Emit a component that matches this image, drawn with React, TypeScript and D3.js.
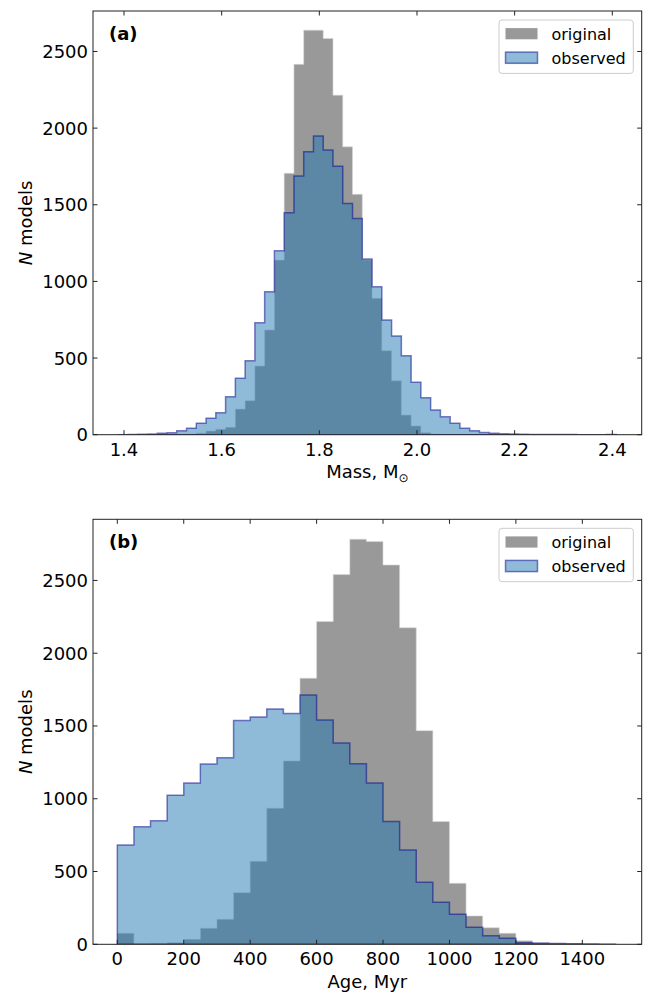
import React from "react";
import * as d3 from "d3";

// ---------- data ----------
const massBinStart = 1.388;
const massBinWidth = 0.02;
const massOriginal = [
  0, 0, 0, 0, 0, 0, 1, 3, 10, 24,
  35, 48, 167, 222, 448, 683, 1139, 1705, 2416, 2639,
  2639, 2585, 2215, 1878, 1568, 1140, 890, 548, 352, 128,
  57, 13, 3, 1, 0, 0, 0, 0, 0, 0,
  0, 0, 0, 0, 0, 0, 0, 0, 0, 0, 0,
];
const massObserved = [
  0, 1, 3, 5, 9, 13, 26, 42, 74, 107,
  143, 248, 368, 483, 730, 933, 1200, 1448, 1687, 1846,
  1948, 1857, 1752, 1509, 1411, 1146, 965, 748, 644, 515,
  342, 241, 161, 117, 74, 42, 26, 15, 9, 6,
  4, 3, 2, 2, 1, 1, 1, 0, 0, 0, 1,
];

const ageBinStart = 0;
const ageBinWidth = 50;
const ageOriginal = [
  76, 0, 3, 11, 34, 110, 172, 355, 570, 935,
  1260, 1828, 2217, 2540, 2783, 2767, 2606, 2175, 1468, 843,
  419, 195, 114, 76, 25, 11, 7, 5, 3, 2,
];
const ageObserved = [
  682, 808, 849, 1024, 1108, 1239, 1282, 1537, 1562, 1617,
  1585, 1713, 1541, 1383, 1241, 1108, 843, 648, 426, 289,
  206, 117, 59, 41, 11, 7, 5, 3, 2, 1,
];

const massTicks = [1.4, 1.6, 1.8, 2.0, 2.2, 2.4];
const ageTicks = [0, 200, 400, 600, 800, 1000, 1200, 1400];
const countTicks = [0, 500, 1000, 1500, 2000, 2500];
const legendLabels = ["original", "observed"];

// ---------- style ----------
const FONT = "DejaVu Sans, sans-serif";
const GRAY = "#999999";
const BLUE = "#1f77b4";
const EDGE = "#00008b";
const AX_L = 93;
const AX_R = 641.7;
const TICK = 4.5;

type PanelProps = {
  id: string;
  top: number;
  bottom: number;
  xDomain: [number, number];
  yMax: number;
  xTicks: number[];
  fmt: (d: number) => string;
  binStart: number;
  binWidth: number;
  original: number[];
  observed: number[];
  xlabel: React.ReactNode;
  panelLabel: string;
};

function stepPath(
  start: number,
  width: number,
  values: number[],
  x: d3.ScaleLinear<number, number>,
  y: d3.ScaleLinear<number, number>
) {
  const pts: [number, number][] = [[start, 0]];
  values.forEach((v, i) => {
    const x0 = start + i * width;
    pts.push([x0, v], [x0 + width, v]);
  });
  pts.push([start + values.length * width, 0]);
  const line = d3
    .line<[number, number]>()
    .x((d) => x(d[0]))
    .y((d) => y(d[1]));
  return (line(pts) || "") + "Z";
}

function Panel(p: PanelProps) {
  const x = d3.scaleLinear().domain(p.xDomain).range([AX_L, AX_R]);
  const y = d3.scaleLinear().domain([0, p.yMax]).range([p.bottom, p.top]);
  const origPath = stepPath(p.binStart, p.binWidth, p.original, x, y);
  const obsPath = stepPath(p.binStart, p.binWidth, p.observed, x, y);
  const legTop = p.top + 9;
  const legLeft = 499;
  const legRight = 633.3;
  return (
    <g>
      <defs>
        <clipPath id={"clip-" + p.id}>
          <rect x={AX_L} y={p.top} width={AX_R - AX_L} height={p.bottom - p.top} />
        </clipPath>
      </defs>
      <g clipPath={`url(#clip-${p.id})`}>
        <path d={origPath} fill={GRAY} stroke="#d6d6d6" strokeWidth={0.6} />
        <path
          d={obsPath}
          fill={BLUE}
          fillOpacity={0.5}
          stroke={EDGE}
          strokeOpacity={0.5}
          strokeWidth={1.5}
          strokeLinejoin="miter"
        />
      </g>
      {/* frame */}
      <rect
        x={AX_L}
        y={p.top}
        width={AX_R - AX_L}
        height={p.bottom - p.top}
        fill="none"
        stroke="#222"
        strokeWidth={1}
      />
      {/* x ticks */}
      {p.xTicks.map((t) => (
        <g key={"x" + t}>
          <line x1={x(t)} x2={x(t)} y1={p.bottom} y2={p.bottom - TICK} stroke="#222" strokeWidth={1} />
          <line x1={x(t)} x2={x(t)} y1={p.top} y2={p.top + TICK} stroke="#222" strokeWidth={1} />
          <text
            x={x(t)}
            y={p.bottom + 21}
            textAnchor="middle"
            fontFamily={FONT}
            fontSize={18}
            fill="#000"
          >
            {p.fmt(t)}
          </text>
        </g>
      ))}
      {/* y ticks */}
      {countTicks.map((t) => (
        <g key={"y" + t}>
          <line x1={AX_L} x2={AX_L + TICK} y1={y(t)} y2={y(t)} stroke="#222" strokeWidth={1} />
          <line x1={AX_R} x2={AX_R - TICK} y1={y(t)} y2={y(t)} stroke="#222" strokeWidth={1} />
          <text
            x={AX_L - 5}
            y={y(t) + 6.5}
            textAnchor="end"
            fontFamily={FONT}
            fontSize={18}
            fill="#000"
          >
            {t}
          </text>
        </g>
      ))}
      {/* axis labels */}
      <text
        x={(AX_L + AX_R) / 2}
        y={p.bottom + 43.5}
        textAnchor="middle"
        fontFamily={FONT}
        fontSize={18}
        fill="#000"
      >
        {p.xlabel}
      </text>
      <text
        transform={`translate(32, ${(p.top + p.bottom) / 2}) rotate(-90)`}
        textAnchor="middle"
        fontFamily={FONT}
        fontSize={18}
        fill="#000"
      >
        <tspan fontStyle="italic">N</tspan> models
      </text>
      {/* panel label */}
      <text x={109} y={p.top + 29} fontFamily={FONT} fontSize={18} fontWeight="bold" fill="#000">
        {p.panelLabel}
      </text>
      {/* legend */}
      <rect
        x={legLeft}
        y={legTop}
        width={legRight - legLeft}
        height={53.4}
        rx={3}
        fill="#fff"
        fillOpacity={0.8}
        stroke="#cccccc"
        strokeWidth={1}
      />
      {legendLabels.map((lab, i) => {
        const cy = legTop + 13.7 + i * 24;
        return (
          <g key={lab}>
            {i === 0 ? (
              <rect x={505.5} y={cy - 5.6} width={32} height={11.2} fill={GRAY} />
            ) : (
              <rect
                x={505.5}
                y={cy - 5.6}
                width={32}
                height={11.2}
                fill={BLUE}
                fillOpacity={0.5}
                stroke={EDGE}
                strokeOpacity={0.5}
                strokeWidth={1.5}
              />
            )}
            <text x={551.5} y={cy + 5.8} fontFamily={FONT} fontSize={16} fill="#000">
              {lab}
            </text>
          </g>
        );
      })}
    </g>
  );
}

export default function App() {
  return (
    <svg
      width={654}
      height={992}
      viewBox="0 0 654 992"
      style={{ position: "absolute", left: 0, top: 0, background: "#fff" }}
    >
      <rect x={0} y={0} width={654} height={992} fill="#fff" />
      <Panel
        id="a"
        top={11}
        bottom={434.7}
        xDomain={[1.3365, 2.4602]}
        yMax={2764}
        xTicks={massTicks}
        fmt={d3.format(".1f")}
        binStart={massBinStart}
        binWidth={massBinWidth}
        original={massOriginal}
        observed={massObserved}
        xlabel={
          <>
            Mass, M
            <tspan fontSize={12} dy={4}>
              ⊙
            </tspan>
          </>
        }
        panelLabel="(a)"
      />
      <Panel
        id="b"
        top={519.3}
        bottom={944.3}
        xDomain={[-73.2, 1578.8]}
        yMax={2920}
        xTicks={ageTicks}
        fmt={d3.format("d")}
        binStart={ageBinStart}
        binWidth={ageBinWidth}
        original={ageOriginal}
        observed={ageObserved}
        xlabel={"Age, Myr"}
        panelLabel="(b)"
      />
    </svg>
  );
}
